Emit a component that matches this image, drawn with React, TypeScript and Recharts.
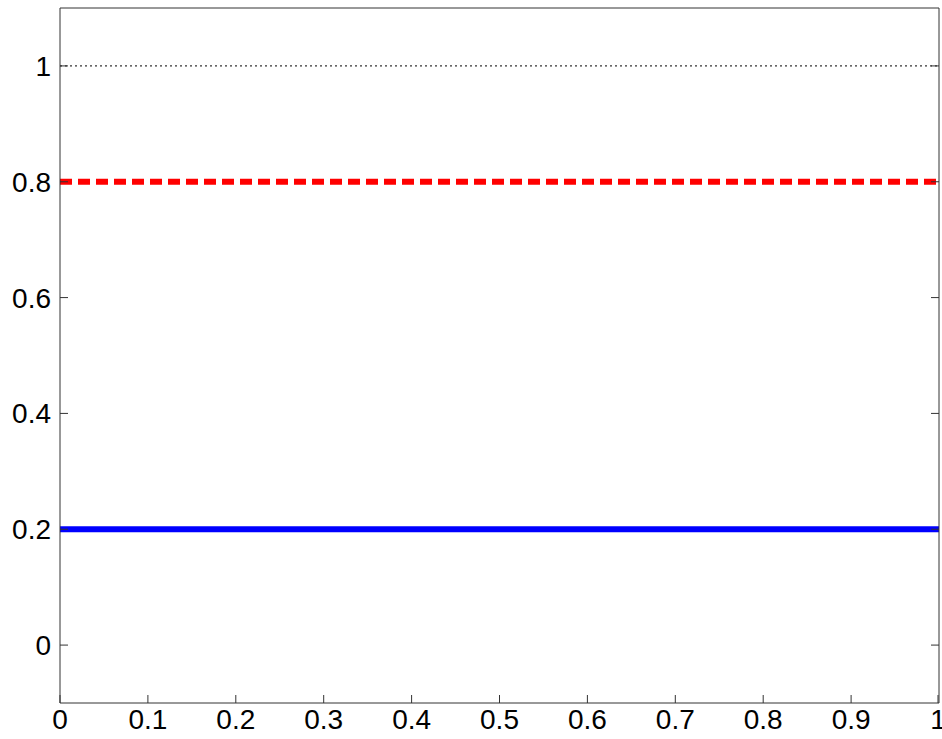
import { LineChart, Line, XAxis, YAxis, ReferenceLine } from "recharts";

// x positions where each horizontal level is sampled
const xs = [0, 1];
const lowLevel = [0.2, 0.2];
const highLevel = [0.8, 0.8];
const unitLevel = [1, 1];

const xTicks = [0, 0.1, 0.2, 0.3, 0.4, 0.5, 0.6, 0.7, 0.8, 0.9, 1];
const yTicks = [0, 0.2, 0.4, 0.6, 0.8, 1];
const Y_DOMAIN = [-0.1, 1.1];

const data = xs.map((x, i) => ({
  x,
  low: lowLevel[i],
  high: highLevel[i],
  unit: unitLevel[i],
}));

const FONT = "'Liberation Sans', Arial, sans-serif";
const FONT_SIZE = 28;
const AXIS = "#333";
const TICK_LEN = 8;
// recharts treats tickSize 0 as unset, so use 1 and subtract it back
const TS = 1;
const X_GAP = 5; // axis line to top of the x labels
const Y_GAP = 8; // axis line to right edge of the y labels

// ticks point into the plot box, labels sit outside it
function BottomTick({ x, y, payload }: any) {
  const axisY = y - X_GAP - TS;
  return (
    <g>
      <line x1={x} x2={x} y1={axisY} y2={axisY - TICK_LEN} stroke={AXIS} />
      <text x={x} y={y} dy="0.71em" textAnchor="middle" fontSize={FONT_SIZE} fontFamily={FONT} fill="#000">
        {payload.value}
      </text>
    </g>
  );
}

function LeftTick({ x, y, payload }: any) {
  const axisX = x + Y_GAP + TS;
  return (
    <g>
      <line x1={axisX} x2={axisX + TICK_LEN} y1={y} y2={y} stroke={AXIS} />
      <text x={x} y={y} dy="0.355em" textAnchor="end" fontSize={FONT_SIZE} fontFamily={FONT} fill="#000">
        {payload.value}
      </text>
    </g>
  );
}

function RightTick({ x, y }: any) {
  const axisX = x - TS;
  return <line x1={axisX} x2={axisX - TICK_LEN} y1={y} y2={y} stroke={AXIS} />;
}

export default function App() {
  return (
    <div style={{ position: "absolute", left: 0, top: 0, background: "#fff" }}>
      <LineChart
        width={942}
        height={739}
        data={data}
        margin={{ top: 8, right: 0, bottom: 0, left: 0 }}
      >
        <XAxis
          dataKey="x"
          type="number"
          domain={[0, 1]}
          ticks={xTicks}
          height={36}
          tickLine={false}
          tickSize={TS}
          tickMargin={X_GAP}
          stroke={AXIS}
          tick={<BottomTick />}
          allowDataOverflow
        />
        <YAxis
          type="number"
          domain={Y_DOMAIN}
          ticks={yTicks}
          width={60}
          tickLine={false}
          tickSize={TS}
          tickMargin={Y_GAP}
          stroke={AXIS}
          tick={<LeftTick />}
          allowDataOverflow
        />
        <YAxis
          yAxisId="right"
          orientation="right"
          type="number"
          domain={Y_DOMAIN}
          ticks={yTicks}
          width={3}
          tickLine={false}
          tickSize={TS}
          tickMargin={0}
          tick={<RightTick />}
          stroke={AXIS}
          allowDataOverflow
        />
        {/* top edge of the plot box */}
        <ReferenceLine y={Y_DOMAIN[1]} stroke={AXIS} />
        <Line
          dataKey="unit"
          yAxisId="right"
          stroke="#000"
          strokeWidth={1}
          strokeDasharray="2 3"
          dot={false}
          isAnimationActive={false}
        />
        <Line
          dataKey="high"
          stroke="#ff0000"
          strokeWidth={6}
          strokeDasharray="12 6"
          dot={false}
          isAnimationActive={false}
        />
        <Line
          dataKey="low"
          stroke="#0000ff"
          strokeWidth={6}
          dot={false}
          isAnimationActive={false}
        />
      </LineChart>
    </div>
  );
}
